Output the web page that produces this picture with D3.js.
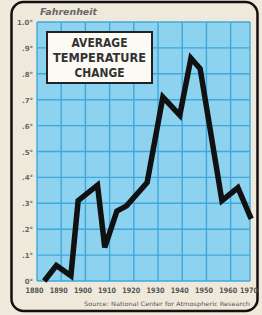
<!DOCTYPE html>
<html>
<head>
<meta charset="utf-8">
<script src="https://cdn.jsdelivr.net/npm/d3@7"></script>
<style>
  body { margin: 0; background: #efe9dc; }
  svg { display: block; }
</style>
</head>
<body>
<div id="chart"></div>
<script>
// values
const years = [1883, 1888, 1894, 1897, 1905, 1908, 1913, 1917, 1925.5, 1932, 1939, 1943.6, 1947.4, 1956.4, 1963, 1968.5];
const temps = [0.0, 0.06, 0.02, 0.31, 0.37, 0.13, 0.27, 0.29, 0.38, 0.71, 0.64, 0.86, 0.82, 0.31, 0.36, 0.24];
const yTicks = [0, 0.1, 0.2, 0.3, 0.4, 0.5, 0.6, 0.7, 0.8, 0.9, 1.0];
const yLabels = ['0°', '.1°', '.2°', '.3°', '.4°', '.5°', '.6°', '.7°', '.8°', '.9°', '1.0°'];
const xTicks = [1880, 1890, 1900, 1910, 1920, 1930, 1940, 1950, 1960, 1970];
const titleLines = ['AVERAGE', 'TEMPERATURE', 'CHANGE'];

const width = 262;
const height = 315;
const plot = { left: 37, right: 250, top: 22, bottom: 281 };

const svg = d3.select('#chart')
  .append('svg')
  .attr('width', width)
  .attr('height', height);

// frame
svg.append('rect')
  .attr('x', 11.5).attr('y', 2)
  .attr('width', 246).attr('height', 309)
  .attr('rx', 12)
  .attr('fill', '#efe9dc')
  .attr('stroke', '#111')
  .attr('stroke-width', 2.5);

const xScale = d3.scaleLinear().domain([1880, 1968]).range([plot.left, plot.right]);
const yScale = d3.scaleLinear().domain([0, 1]).range([plot.bottom, plot.top]);

svg.append('rect')
  .attr('x', plot.left).attr('y', plot.top)
  .attr('width', plot.right - plot.left)
  .attr('height', plot.bottom - plot.top)
  .attr('fill', '#8dd2ee');

// gridlines
const grid = svg.append('g')
  .attr('stroke', '#3fa8dc')
  .attr('stroke-width', 1.4);

grid.selectAll('line.h')
  .data(yTicks)
  .join('line')
  .attr('class', 'h')
  .attr('x1', plot.left).attr('x2', plot.right)
  .attr('y1', (d) => yScale(d)).attr('y2', (d) => yScale(d));

grid.selectAll('line.v')
  .data(xTicks.filter((d) => d <= 1968).concat([1968]))
  .join('line')
  .attr('class', 'v')
  .attr('y1', plot.top).attr('y2', plot.bottom)
  .attr('x1', (d) => xScale(d)).attr('x2', (d) => xScale(d));

// y labels
svg.append('g')
  .selectAll('text')
  .data(yTicks)
  .join('text')
  .attr('x', 33)
  .attr('y', (d) => yScale(d) + 3)
  .attr('text-anchor', 'end')
  .attr('font-family', 'DejaVu Sans, sans-serif')
  .attr('font-weight', 'bold')
  .attr('font-size', 7)
  .attr('fill', '#666')
  .text((d, i) => yLabels[i]);

// x labels, squeezed like the printed ones
svg.append('g')
  .selectAll('text')
  .data(xTicks)
  .join('text')
  .attr('x', (d) => Math.min(xScale(d) - 2.5, 249))
  .attr('y', 293)
  .attr('text-anchor', 'middle')
  .attr('font-family', 'DejaVu Sans, sans-serif')
  .attr('font-weight', 'bold')
  .attr('font-size', 7.5)
  .attr('textLength', 18)
  .attr('lengthAdjust', 'spacingAndGlyphs')
  .attr('fill', '#555')
  .text((d) => d);

svg.append('text')
  .attr('x', 40).attr('y', 15)
  .attr('font-family', 'DejaVu Sans, sans-serif')
  .attr('font-style', 'italic')
  .attr('font-weight', 'bold')
  .attr('font-size', 8)
  .attr('textLength', 57)
  .attr('lengthAdjust', 'spacingAndGlyphs')
  .attr('fill', '#666')
  .text('Fahrenheit');

svg.append('text')
  .attr('x', 250).attr('y', 306)
  .attr('text-anchor', 'end')
  .attr('font-family', 'DejaVu Sans, sans-serif')
  .attr('font-size', 6)
  .attr('textLength', 166)
  .attr('lengthAdjust', 'spacingAndGlyphs')
  .attr('fill', '#555')
  .text('Source: National Center for Atmospheric Research');

// title box
svg.append('rect')
  .attr('x', 47).attr('y', 32)
  .attr('width', 105).attr('height', 51)
  .attr('fill', '#fbfaf5')
  .attr('stroke', '#222')
  .attr('stroke-width', 2);

const titleWidths = [56, 93, 50];
svg.append('g')
  .selectAll('text')
  .data(titleLines)
  .join('text')
  .attr('x', 99.5)
  .attr('y', (d, i) => 47 + i * 15)
  .attr('text-anchor', 'middle')
  .attr('font-family', 'DejaVu Sans, sans-serif')
  .attr('font-weight', 'bold')
  .attr('font-size', 12.5)
  .attr('textLength', (d, i) => titleWidths[i])
  .attr('lengthAdjust', 'spacingAndGlyphs')
  .attr('fill', '#333')
  .text((d) => d);

// temperature line
const line = d3.line()
  .x((d) => xScale(d[0]))
  .y((d) => yScale(d[1]));

svg.append('path')
  .datum(d3.zip(years, temps))
  .attr('d', line)
  .attr('fill', 'none')
  .attr('stroke', '#111')
  .attr('stroke-width', 5.5)
  .attr('stroke-linejoin', 'miter');
</script>
</body>
</html>
